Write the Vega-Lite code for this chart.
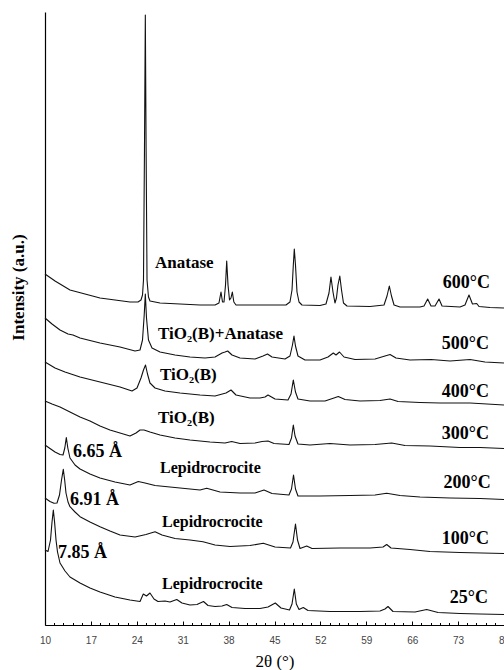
{
"$schema": "https://vega.github.io/schema/vega-lite/v6.json",
"width": 459, "height": 613,
"autosize": {"type": "none"},
"padding": {"left": 45, "top": 12, "right": 0, "bottom": 45},
"background": "white",
"config": {"view": {"stroke": null}},
"datasets": {
"traces": [
{"s":"600","t":10,"i":351},{"s":"600","t":11.53,"i":344},{"s":"600","t":13.81,"i":335},{"s":"600","t":16.1,"i":331},{"s":"600","t":18.39,"i":327},{"s":"600","t":20.68,"i":325},{"s":"600","t":22.96,"i":323},{"s":"600","t":24.18,"i":323},{"s":"600","t":24.64,"i":325},{"s":"600","t":24.87,"i":330},{"s":"600","t":25.02,"i":345},{"s":"600","t":25.17,"i":475},{"s":"600","t":25.3,"i":610},{"s":"600","t":25.42,"i":475},{"s":"600","t":25.56,"i":345},{"s":"600","t":25.78,"i":328},{"s":"600","t":26.01,"i":324},{"s":"600","t":27.54,"i":322},{"s":"600","t":30.59,"i":321},{"s":"600","t":33.64,"i":320},{"s":"600","t":35.93,"i":320},{"s":"600","t":36.53,"i":322},{"s":"600","t":36.84,"i":333},{"s":"600","t":37.07,"i":323},{"s":"600","t":37.3,"i":323},{"s":"600","t":37.53,"i":340},{"s":"600","t":37.71,"i":364},{"s":"600","t":37.91,"i":340},{"s":"600","t":38.14,"i":325},{"s":"600","t":38.36,"i":327},{"s":"600","t":38.57,"i":333},{"s":"600","t":38.8,"i":323},{"s":"600","t":39.13,"i":320},{"s":"600","t":41.26,"i":320},{"s":"600","t":44.31,"i":320},{"s":"600","t":46.75,"i":320},{"s":"600","t":47.36,"i":323},{"s":"600","t":47.67,"i":335},{"s":"600","t":47.87,"i":360},{"s":"600","t":48.02,"i":376},{"s":"600","t":48.2,"i":360},{"s":"600","t":48.43,"i":333},{"s":"600","t":48.74,"i":323},{"s":"600","t":49.19,"i":320},{"s":"600","t":51.94,"i":319.5},{"s":"600","t":52.85,"i":321},{"s":"600","t":53.31,"i":332},{"s":"600","t":53.61,"i":348},{"s":"600","t":53.92,"i":333},{"s":"600","t":54.22,"i":322},{"s":"600","t":54.45,"i":327},{"s":"600","t":54.68,"i":340},{"s":"600","t":54.96,"i":349},{"s":"600","t":55.22,"i":335},{"s":"600","t":55.52,"i":322},{"s":"600","t":56.05,"i":319},{"s":"600","t":59.57,"i":318.5},{"s":"600","t":61.7,"i":320},{"s":"600","t":62.16,"i":329},{"s":"600","t":62.51,"i":339},{"s":"600","t":62.84,"i":329},{"s":"600","t":63.23,"i":320},{"s":"600","t":64.14,"i":318},{"s":"600","t":67.19,"i":318},{"s":"600","t":67.8,"i":319},{"s":"600","t":68.36,"i":326},{"s":"600","t":68.87,"i":319},{"s":"600","t":69.48,"i":319},{"s":"600","t":70.09,"i":326},{"s":"600","t":70.55,"i":319},{"s":"600","t":73.29,"i":318},{"s":"600","t":74.05,"i":320},{"s":"600","t":74.66,"i":330},{"s":"600","t":75.19,"i":321},{"s":"600","t":75.84,"i":321.5},{"s":"600","t":76.19,"i":318.5},{"s":"600","t":77.87,"i":317.5},{"s":"600","t":80,"i":317},

{"s":"500","t":10,"i":307},{"s":"500","t":11.07,"i":301},{"s":"500","t":12.29,"i":295},{"s":"500","t":13.51,"i":291},{"s":"500","t":14.27,"i":290},{"s":"500","t":15.34,"i":287},{"s":"500","t":18.39,"i":282},{"s":"500","t":21.44,"i":278},{"s":"500","t":23.73,"i":274},{"s":"500","t":24.49,"i":275},{"s":"500","t":24.87,"i":285},{"s":"500","t":25.13,"i":310},{"s":"500","t":25.3,"i":331},{"s":"500","t":25.48,"i":307},{"s":"500","t":25.78,"i":285},{"s":"500","t":26.32,"i":277},{"s":"500","t":27.54,"i":273},{"s":"500","t":29.83,"i":270},{"s":"500","t":32.11,"i":268},{"s":"500","t":34.4,"i":267},{"s":"500","t":35.93,"i":268},{"s":"500","t":37.0,"i":272},{"s":"500","t":37.45,"i":273},{"s":"500","t":37.86,"i":274},{"s":"500","t":38.52,"i":270},{"s":"500","t":39.74,"i":267},{"s":"500","t":42.03,"i":266},{"s":"500","t":43.25,"i":269},{"s":"500","t":43.93,"i":271},{"s":"500","t":44.62,"i":268},{"s":"500","t":46.6,"i":266},{"s":"500","t":47.36,"i":269},{"s":"500","t":47.74,"i":280},{"s":"500","t":47.97,"i":289},{"s":"500","t":48.2,"i":279},{"s":"500","t":48.58,"i":269},{"s":"500","t":49.65,"i":265},{"s":"500","t":51.94,"i":265},{"s":"500","t":53.16,"i":268},{"s":"500","t":53.97,"i":272},{"s":"500","t":54.38,"i":270},{"s":"500","t":54.91,"i":273},{"s":"500","t":55.6,"i":268},{"s":"500","t":57.28,"i":265.5},{"s":"500","t":60.33,"i":266},{"s":"500","t":61.85,"i":269},{"s":"500","t":62.62,"i":270.5},{"s":"500","t":63.53,"i":267},{"s":"500","t":65.67,"i":265},{"s":"500","t":68.87,"i":265.5},{"s":"500","t":71.77,"i":264},{"s":"500","t":74.82,"i":265.5},{"s":"500","t":77.1,"i":263},{"s":"500","t":80,"i":262},

{"s":"400","t":10,"i":263},{"s":"400","t":11.53,"i":257},{"s":"400","t":13.05,"i":253},{"s":"400","t":15.34,"i":248},{"s":"400","t":18.39,"i":243},{"s":"400","t":21.44,"i":238},{"s":"400","t":23.27,"i":234},{"s":"400","t":24.03,"i":237},{"s":"400","t":24.64,"i":247},{"s":"400","t":25.02,"i":255},{"s":"400","t":25.33,"i":260},{"s":"400","t":25.63,"i":251},{"s":"400","t":26.01,"i":242},{"s":"400","t":26.78,"i":237},{"s":"400","t":28.3,"i":234},{"s":"400","t":30.59,"i":232},{"s":"400","t":33.64,"i":230},{"s":"400","t":35.93,"i":229},{"s":"400","t":37.6,"i":232},{"s":"400","t":38.37,"i":235},{"s":"400","t":39.13,"i":230},{"s":"400","t":41.26,"i":227},{"s":"400","t":42.79,"i":227},{"s":"400","t":43.55,"i":228},{"s":"400","t":44.01,"i":230},{"s":"400","t":45.08,"i":226},{"s":"400","t":47.06,"i":225},{"s":"400","t":47.52,"i":231},{"s":"400","t":47.87,"i":245},{"s":"400","t":48.2,"i":233},{"s":"400","t":48.58,"i":226},{"s":"400","t":50.41,"i":224},{"s":"400","t":52.7,"i":224},{"s":"400","t":54.07,"i":227},{"s":"400","t":54.73,"i":228.5},{"s":"400","t":55.75,"i":225.5},{"s":"400","t":58.04,"i":224},{"s":"400","t":61.09,"i":224.5},{"s":"400","t":62.62,"i":226},{"s":"400","t":63.84,"i":223.5},{"s":"400","t":67.19,"i":222.5},{"s":"400","t":70.24,"i":222},{"s":"400","t":74.82,"i":222},{"s":"400","t":80,"i":220},

{"s":"300","t":10,"i":224},{"s":"300","t":11.07,"i":221},{"s":"300","t":12.29,"i":218},{"s":"300","t":13.81,"i":213},{"s":"300","t":15.34,"i":208},{"s":"300","t":16.86,"i":204},{"s":"300","t":18.39,"i":199},{"s":"300","t":19.91,"i":195},{"s":"300","t":21.44,"i":192},{"s":"300","t":22.96,"i":189},{"s":"300","t":23.88,"i":192},{"s":"300","t":24.49,"i":195},{"s":"300","t":25.1,"i":195},{"s":"300","t":26.01,"i":193},{"s":"300","t":27.54,"i":190},{"s":"300","t":29.83,"i":187},{"s":"300","t":32.11,"i":185},{"s":"300","t":35.16,"i":183},{"s":"300","t":37.45,"i":182},{"s":"300","t":38.47,"i":183.5},{"s":"300","t":39.74,"i":181.5},{"s":"300","t":42.03,"i":182},{"s":"300","t":43.1,"i":183.5},{"s":"300","t":44.01,"i":184},{"s":"300","t":44.93,"i":181.5},{"s":"300","t":47.21,"i":180.5},{"s":"300","t":47.59,"i":187},{"s":"300","t":47.87,"i":200},{"s":"300","t":48.13,"i":189},{"s":"300","t":48.58,"i":181},{"s":"300","t":50.41,"i":180},{"s":"300","t":53.46,"i":181.5},{"s":"300","t":56.51,"i":180},{"s":"300","t":60.33,"i":180.5},{"s":"300","t":62.87,"i":182},{"s":"300","t":64.9,"i":179.5},{"s":"300","t":68.71,"i":179},{"s":"300","t":73.29,"i":177.5},{"s":"300","t":76.34,"i":177.5},{"s":"300","t":80,"i":176.5},

{"s":"200","t":10,"i":180},{"s":"200","t":10.76,"i":176.5},{"s":"200","t":11.53,"i":173},{"s":"200","t":12.29,"i":170.5},{"s":"200","t":12.75,"i":170},{"s":"200","t":13.02,"i":177},{"s":"200","t":13.25,"i":187.5},{"s":"200","t":13.48,"i":177},{"s":"200","t":13.81,"i":167},{"s":"200","t":14.58,"i":160},{"s":"200","t":15.34,"i":156},{"s":"200","t":16.86,"i":151},{"s":"200","t":18.39,"i":147},{"s":"200","t":20.68,"i":143},{"s":"200","t":22.96,"i":140},{"s":"200","t":24.23,"i":143.5},{"s":"200","t":25.25,"i":142},{"s":"200","t":26.78,"i":139.5},{"s":"200","t":29.06,"i":138},{"s":"200","t":31.35,"i":136.5},{"s":"200","t":33.64,"i":135},{"s":"200","t":34.66,"i":136.7},{"s":"200","t":36.69,"i":133},{"s":"200","t":39.74,"i":132},{"s":"200","t":42.03,"i":132},{"s":"200","t":43.4,"i":135},{"s":"200","t":44.62,"i":131.5},{"s":"200","t":47.21,"i":130},{"s":"200","t":47.59,"i":136},{"s":"200","t":47.9,"i":150},{"s":"200","t":48.2,"i":136},{"s":"200","t":48.58,"i":129},{"s":"200","t":51.94,"i":129},{"s":"200","t":56.51,"i":129.5},{"s":"200","t":60.33,"i":130},{"s":"200","t":62.11,"i":131.7},{"s":"200","t":64.14,"i":129.5},{"s":"200","t":67.19,"i":128},{"s":"200","t":71.77,"i":127},{"s":"200","t":76.34,"i":126.5},{"s":"200","t":80,"i":125.5},

{"s":"100","t":10,"i":127},{"s":"100","t":10.76,"i":123.5},{"s":"100","t":11.37,"i":121.7},{"s":"100","t":11.83,"i":122},{"s":"100","t":12.21,"i":130},{"s":"100","t":12.52,"i":145},{"s":"100","t":12.79,"i":155.7},{"s":"100","t":13.0,"i":145},{"s":"100","t":13.2,"i":132},{"s":"100","t":13.51,"i":123},{"s":"100","t":13.81,"i":118.3},{"s":"100","t":14.58,"i":113},{"s":"100","t":15.34,"i":108.3},{"s":"100","t":16.86,"i":103},{"s":"100","t":18.39,"i":98.3},{"s":"100","t":19.91,"i":94},{"s":"100","t":21.44,"i":90},{"s":"100","t":23.73,"i":88},{"s":"100","t":25.4,"i":90.5},{"s":"100","t":26.78,"i":93.3},{"s":"100","t":27.84,"i":90},{"s":"100","t":29.83,"i":86.5},{"s":"100","t":32.11,"i":85},{"s":"100","t":34.1,"i":83.3},{"s":"100","t":35.93,"i":80},{"s":"100","t":38.22,"i":78.5},{"s":"100","t":41.26,"i":79.5},{"s":"100","t":43.29,"i":81.7},{"s":"100","t":45.08,"i":78},{"s":"100","t":47.44,"i":77},{"s":"100","t":47.82,"i":83},{"s":"100","t":48.2,"i":101},{"s":"100","t":48.51,"i":85},{"s":"100","t":48.89,"i":76.5},{"s":"100","t":49.91,"i":79},{"s":"100","t":50.72,"i":76.5},{"s":"100","t":54.99,"i":77},{"s":"100","t":59.57,"i":77},{"s":"100","t":61.55,"i":78},{"s":"100","t":62.11,"i":80.5},{"s":"100","t":62.77,"i":77},{"s":"100","t":65.67,"i":75.5},{"s":"100","t":68.71,"i":73.5},{"s":"100","t":73.29,"i":72.5},{"s":"100","t":80,"i":71.5},

{"s":"25","t":10,"i":75},{"s":"25","t":10.46,"i":73.5},{"s":"25","t":10.84,"i":85},{"s":"25","t":11.07,"i":103},{"s":"25","t":11.27,"i":115},{"s":"25","t":11.46,"i":103},{"s":"25","t":11.68,"i":85},{"s":"25","t":11.91,"i":73},{"s":"25","t":12.29,"i":62},{"s":"25","t":13.05,"i":54},{"s":"25","t":13.81,"i":48},{"s":"25","t":15.34,"i":42},{"s":"25","t":16.86,"i":37},{"s":"25","t":18.39,"i":33},{"s":"25","t":20.68,"i":28},{"s":"25","t":22.96,"i":25},{"s":"25","t":24.49,"i":23.5},{"s":"25","t":24.99,"i":31},{"s":"25","t":25.48,"i":29},{"s":"25","t":26.01,"i":32},{"s":"25","t":26.62,"i":26},{"s":"25","t":27.23,"i":23.5},{"s":"25","t":28.3,"i":24},{"s":"25","t":29.06,"i":23},{"s":"25","t":30.09,"i":25.5},{"s":"25","t":30.89,"i":22},{"s":"25","t":32.11,"i":20},{"s":"25","t":33.18,"i":20.5},{"s":"25","t":34.17,"i":23.5},{"s":"25","t":34.86,"i":19.5},{"s":"25","t":35.93,"i":18.5},{"s":"25","t":37.0,"i":19},{"s":"25","t":37.71,"i":20.5},{"s":"25","t":38.52,"i":17.5},{"s":"25","t":40.5,"i":16.5},{"s":"25","t":42.79,"i":16.5},{"s":"25","t":44.01,"i":18},{"s":"25","t":45.12,"i":22},{"s":"25","t":45.99,"i":17},{"s":"25","t":47.29,"i":15},{"s":"25","t":47.67,"i":21},{"s":"25","t":48.02,"i":36},{"s":"25","t":48.33,"i":21},{"s":"25","t":48.74,"i":15.5},{"s":"25","t":49.39,"i":17.5},{"s":"25","t":50.11,"i":14.5},{"s":"25","t":53.46,"i":13.5},{"s":"25","t":58.04,"i":13.5},{"s":"25","t":61.09,"i":14},{"s":"25","t":61.85,"i":16},{"s":"25","t":62.31,"i":18.5},{"s":"25","t":63.07,"i":13.5},{"s":"25","t":66.43,"i":13},{"s":"25","t":68.21,"i":15.5},{"s":"25","t":69.94,"i":12.5},{"s":"25","t":73.29,"i":11.5},{"s":"25","t":76.34,"i":11},{"s":"25","t":80,"i":10.5}
],
"temps": [
{"t":77.87,"i":342,"label":"600°C"},{"t":77.71,"i":281,"label":"500°C"},{"t":77.71,"i":233.3,"label":"400°C"},{"t":77.71,"i":191,"label":"300°C"},{"t":77.97,"i":142.3,"label":"200°C"},{"t":77.71,"i":86,"label":"100°C"},{"t":77.56,"i":27,"label":"25°C"}
],
"phases": [
{"t":26.78,"i":362,"label":"Anatase"},{"t":27.23,"i":291,"label":"TiO₂(B)+Anatase"},{"t":27.54,"i":250,"label":"TiO₂(B)"},{"t":27.23,"i":207,"label":"TiO₂(B)"}
],
"lepi": [
{"t":27.54,"i":157,"label":"Lepidrocrocite"},{"t":27.84,"i":103.3,"label":"Lepidrocrocite"},{"t":27.84,"i":41,"label":"Lepidrocrocite"}
],
"dsp": [
{"t":14.27,"i":173.3,"label":"6.65 Å"},{"t":13.81,"i":125,"label":"6.91 Å"},{"t":11.98,"i":72.3,"label":"7.85 Å"}
]
},
"resolve": {"axis": {"x": "independent"}},
"layer": [
{"data": {"name": "traces"},
 "mark": {"type": "line", "color": "#111", "strokeWidth": 1.1, "strokeJoin": "round"},
 "encoding": {
  "x": {"field": "t", "type": "quantitative", "scale": {"domain": [10, 80], "nice": false, "zero": false},
   "axis": {"orient": "bottom", "values": [10,17,24,31,38,45,52,59,66,73,80], "tickSize": -4, "tickColor": "#000", "tickWidth": 1, "domainColor": "#000", "domainWidth": 1.2, "grid": false, "labelFont": "Liberation Sans", "labelFontSize": 10, "labelColor": "#444", "labelPadding": 14, "labelFlush": false, "labelOverlap": false, "title": "2θ (°)", "titleFont": "Liberation Serif", "titleFontSize": 17, "titleFontWeight": "normal", "titleColor": "#000", "titlePadding": 8}},
  "y": {"field": "i", "type": "quantitative", "scale": {"domain": [0, 613], "nice": false, "zero": false},
   "axis": {"ticks": false, "labels": false, "grid": false, "domainColor": "#000", "domainWidth": 1.2, "title": "Intensity (a.u.)", "titleFont": "Liberation Serif", "titleFontSize": 17, "titleFontWeight": "bold", "titleColor": "#000", "titleX": -27, "titleY": 275, "titleAngle": -90, "titleBaseline": "middle", "titleAlign": "center"}},
  "detail": {"field": "s"}
 }},
{"data": {"name": "temps"},
 "mark": {"type": "text", "font": "Liberation Serif", "fontWeight": "bold", "fontSize": 18, "align": "right", "baseline": "middle", "color": "#000"},
 "encoding": {
  "x": {"field": "t", "type": "quantitative",
   "axis": {"orient": "bottom", "values": [11.4,12.8,14.2,15.6,18.4,19.8,21.2,22.6,25.4,26.8,28.2,29.6,32.4,33.8,35.2,36.6,39.4,40.8,42.2,43.6,46.4,47.8,49.2,50.6,53.4,54.8,56.2,57.6,60.4,61.8,63.2,64.6,67.4,68.8,70.2,71.6,74.4,75.8,77.2,78.6], "tickSize": -2.5, "tickColor": "#000", "tickWidth": 1, "labels": false, "domain": false, "grid": false, "title": null}},
  "y": {"field": "i", "type": "quantitative"},
  "text": {"field": "label"}
 }},
{"data": {"name": "phases"},
 "mark": {"type": "text", "font": "Liberation Serif", "fontWeight": "bold", "fontSize": 17, "align": "left", "baseline": "middle", "color": "#000"},
 "encoding": {
  "x": {"field": "t", "type": "quantitative", "axis": null},
  "y": {"field": "i", "type": "quantitative"},
  "text": {"field": "label"}
 }},
{"data": {"name": "lepi"},
 "mark": {"type": "text", "font": "Liberation Serif", "fontWeight": "bold", "fontSize": 16, "align": "left", "baseline": "middle", "color": "#000"},
 "encoding": {
  "x": {"field": "t", "type": "quantitative", "axis": null},
  "y": {"field": "i", "type": "quantitative"},
  "text": {"field": "label"}
 }},
{"data": {"name": "dsp"},
 "mark": {"type": "text", "font": "Liberation Serif", "fontWeight": "bold", "fontSize": 18, "align": "left", "baseline": "middle", "color": "#000"},
 "encoding": {
  "x": {"field": "t", "type": "quantitative", "axis": null},
  "y": {"field": "i", "type": "quantitative"},
  "text": {"field": "label"}
 }}
]
}
